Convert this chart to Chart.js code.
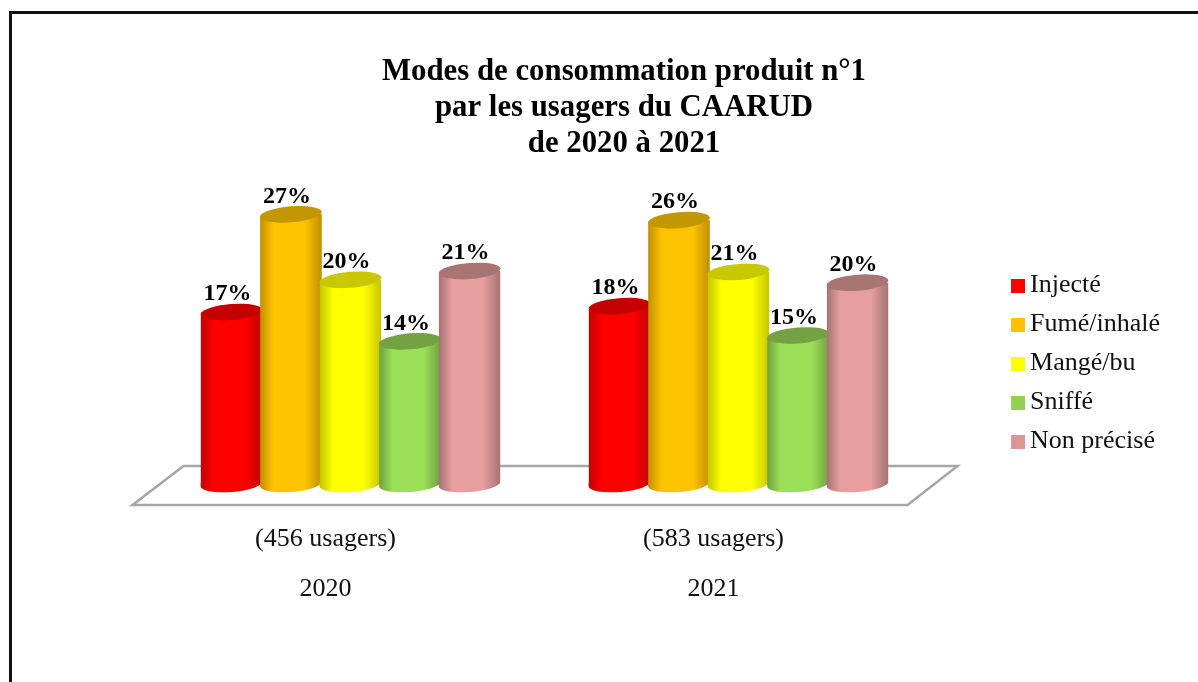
<!DOCTYPE html>
<html>
<head>
<meta charset="utf-8">
<title>Modes de consommation</title>
<script src="https://cdn.jsdelivr.net/npm/chart.js@4"></script>
<style>
  html, body { margin: 0; padding: 0; background: #fff; overflow: hidden; }
  #wrap { position: relative; width: 1198px; height: 682px; }
  #frame { position: absolute; left: 9px; top: 11px; right: 0; bottom: 0; border-left: 3px solid #111; border-top: 3px solid #111; }
  canvas { position: absolute; left: 0; top: 0; }
</style>
</head>
<body>
<div id="wrap">
  <div id="frame"></div>
  <canvas id="chart" width="1198" height="682"></canvas>
</div>
<script>
// Data: bar heights estimated, the labels show them rounded
const years = ['2020', '2021'];
const usagers = ['(456 usagers)', '(583 usagers)'];
const seriesNames = ['Injecté', 'Fumé/inhalé', 'Mangé/bu', 'Sniffé', 'Non précisé'];
const injecte = [17.0, 17.6];
const fume = [27.0, 26.4];
const mange = [20.3, 21.1];
const sniffe = [14.0, 14.6];
const nonPrecise = [21.2, 20.0];
const seriesValues = [injecte, fume, mange, sniffe, nonPrecise];
const titleLines = ['Modes de consommation produit n°1', 'par les usagers du CAARUD', 'de 2020 à 2021'];

// Colours
const legendColors = ['#FF0000', '#FFC000', '#FFFF00', '#92D050', '#D99694'];
const bodyColors = ['#FF0000', '#FFC400', '#FFFF00', '#9CE058', '#E69E9E'];
const edgeColors = ['#C00000', '#C08E00', '#C4C400', '#70A040', '#A57272'];
const capColors = ['#C40000', '#C49600', '#C8C800', '#74A242', '#A87474'];

const FONT = "'Liberation Serif', serif";
const TILT = -0.08;
const CAP_RY = 8;
const AXIS_MIN = -0.6;

// legend square, with a bit of empty room on the left so the text sits close to it
function swatch(color) {
  const c = document.createElement('canvas');
  c.width = 17;
  c.height = 14;
  const g = c.getContext('2d');
  g.fillStyle = color;
  g.fillRect(3, 0, 14, 14);
  return c;
}

// Floor of the 3D look + cylinders, drawn from the bar elements
const cylinderPlugin = {
  id: 'cylinders',
  beforeDatasetsDraw(chart) {
    const ctx = chart.ctx;
    const a = chart.chartArea;

    // floor
    ctx.save();
    ctx.strokeStyle = '#A6A6A6';
    ctx.lineWidth = 2.5;
    ctx.lineJoin = 'miter';
    ctx.beginPath();
    ctx.moveTo(a.left + 27, a.bottom - 18);
    ctx.lineTo(a.right + 25, a.bottom - 18);
    ctx.lineTo(a.right - 25, a.bottom + 21);
    ctx.lineTo(a.left - 24, a.bottom + 21);
    ctx.closePath();
    ctx.stroke();
    ctx.restore();

    // series left to right, so the later cylinder overlaps the earlier one
    chart.data.datasets.forEach((ds, i) => {
      chart.getDatasetMeta(i).data.forEach(el => {
        const rx = el.width / 2;
        const grad = ctx.createLinearGradient(el.x - rx, 0, el.x + rx, 0);
        grad.addColorStop(0, edgeColors[i]);
        grad.addColorStop(0.22, bodyColors[i]);
        grad.addColorStop(0.72, bodyColors[i]);
        grad.addColorStop(1, edgeColors[i]);

        ctx.save();
        ctx.beginPath();
        ctx.ellipse(el.x, el.y, rx, CAP_RY, TILT, Math.PI, 0);
        ctx.ellipse(el.x, el.base, rx, CAP_RY, TILT, 0, Math.PI);
        ctx.closePath();
        ctx.clip();
        el.options = Object.assign({}, el.options, { backgroundColor: grad });
        el.draw(ctx);
        // rounded foot below the bar's base
        ctx.fillStyle = grad;
        ctx.fillRect(el.x - rx - 2, el.base - 1, el.width + 4, CAP_RY + 4);
        ctx.restore();

        ctx.fillStyle = capColors[i];
        ctx.beginPath();
        ctx.ellipse(el.x, el.y, rx, CAP_RY, TILT, 0, Math.PI * 2);
        ctx.fill();
      });
    });
  },
  // cylinders are done above, skip the default pass
  beforeDatasetDraw() {
    return false;
  },
  afterDatasetsDraw(chart) {
    const ctx = chart.ctx;
    ctx.save();
    ctx.fillStyle = '#000';
    ctx.font = 'bold 24px ' + FONT;
    ctx.textAlign = 'center';
    ctx.textBaseline = 'middle';
    chart.data.datasets.forEach((ds, i) => {
      chart.getDatasetMeta(i).data.forEach((el, j) => {
        ctx.fillText(Math.round(ds.data[j]) + '%', el.x - 4, el.y - 18);
      });
    });
    ctx.restore();
  }
};

new Chart(document.getElementById('chart').getContext('2d'), {
  type: 'bar',
  plugins: [cylinderPlugin],
  data: {
    labels: years.map((y, i) => [usagers[i], y]),
    datasets: seriesNames.map((name, i) => ({
      label: name,
      data: seriesValues[i],
      backgroundColor: legendColors[i],
      base: AXIS_MIN,
      categoryPercentage: 0.767,
      barPercentage: 1.04
    }))
  },
  options: {
    responsive: false,
    animation: false,
    layout: { padding: { left: 78, right: 28, top: 45, bottom: 0 } },
    plugins: {
      title: {
        display: true,
        text: titleLines,
        color: '#000',
        font: { family: FONT, size: 30.8, weight: 'bold', lineHeight: 36 / 30.8 },
        padding: { top: 9, bottom: 23 }
      },
      legend: {
        position: 'right',
        labels: {
          color: '#111',
          font: { family: FONT, size: 26 },
          padding: 13,
          usePointStyle: true,
          pointStyleWidth: 1,
          boxHeight: 14,
          generateLabels(chart) {
            const items = Chart.defaults.plugins.legend.labels.generateLabels(chart);
            items.forEach((item, i) => { item.pointStyle = swatch(legendColors[i]); });
            return items;
          }
        }
      },
      tooltip: { enabled: false }
    },
    scales: {
      x: {
        grid: { display: false },
        border: { display: false },
        ticks: {
          color: '#111',
          font: { family: FONT, size: 26, lineHeight: 50 / 26 },
          padding: 22,
          labelOffset: -25,
          maxRotation: 0,
          autoSkip: false
        },
        afterFit(scale) { scale.height = 198; }
      },
      y: {
        min: AXIS_MIN,
        max: 30,
        grid: { display: false },
        border: { display: false },
        ticks: { display: false },
        afterFit(scale) { scale.width = 78.5; }
      },
      // empty right axis, only keeps the gap before the legend
      gap: {
        position: 'right',
        grid: { display: false },
        border: { display: false },
        ticks: { display: false },
        afterFit(scale) { scale.width = 70.5; }
      }
    }
  }
});
</script>
</body>
</html>
